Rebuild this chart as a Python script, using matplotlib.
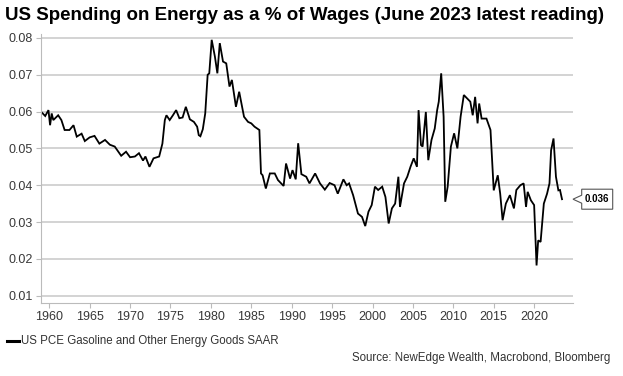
import matplotlib
matplotlib.use('Agg')
import matplotlib.pyplot as plt
from matplotlib.patches import Polygon

# values (year, share of wages)
years = [
    1959.1, 1959.5, 1959.9, 1960.1, 1960.3, 1960.5, 1961.1, 1961.5, 1961.9, 1962.5,
    1963.0, 1963.4, 1964.0, 1964.4, 1965.0, 1965.6, 1966.2, 1966.9, 1967.5, 1968.1,
    1968.9, 1969.5, 1970.0, 1970.6, 1971.1, 1971.6, 1971.9, 1972.4, 1972.9, 1973.6,
    1974.0, 1974.3, 1974.5, 1974.9, 1975.3, 1975.7, 1976.1, 1976.5, 1976.9, 1977.4,
    1977.9, 1978.3, 1978.5, 1978.7, 1979.0, 1979.3, 1979.6, 1979.8, 1980.1, 1980.5,
    1980.8, 1981.1, 1981.5, 1981.9, 1982.3, 1982.6, 1983.1, 1983.5, 1984.1, 1984.6,
    1985.0, 1985.4, 1986.0, 1986.2, 1986.4, 1986.8, 1987.3, 1987.9, 1988.3, 1989.0,
    1989.3, 1989.8, 1990.1, 1990.5, 1990.8, 1991.2, 1991.8, 1992.2, 1992.9, 1993.5,
    1994.1, 1994.7, 1995.3, 1995.7, 1996.4, 1996.8, 1997.1, 1997.6, 1998.2, 1998.7,
    1999.1, 1999.5, 1999.9, 2000.3, 2000.7, 2001.2, 2001.6, 2002.0, 2002.4, 2002.8,
    2003.2, 2003.4, 2003.9, 2004.3, 2004.7, 2005.1, 2005.5, 2005.7, 2006.0, 2006.2,
    2006.6, 2006.9, 2007.3, 2007.7, 2008.0, 2008.2, 2008.5, 2008.8, 2009.0, 2009.3,
    2009.7, 2010.1, 2010.5, 2010.9, 2011.3, 2011.7, 2012.1, 2012.4, 2012.7, 2013.0,
    2013.2, 2013.5, 2014.1, 2014.6, 2015.0, 2015.5, 2015.8, 2016.1, 2016.5, 2017.0,
    2017.5, 2017.8, 2018.3, 2018.7, 2019.0, 2019.2, 2019.6, 2020.0, 2020.3, 2020.5,
    2020.8, 2021.2, 2021.6, 2021.9, 2022.1, 2022.4, 2022.7, 2023.0, 2023.2, 2023.45,
]
share = [
    0.0597, 0.0588, 0.0604, 0.0563, 0.0595, 0.0577, 0.0590, 0.0577, 0.0550, 0.0550,
    0.0563, 0.0532, 0.0540, 0.0520, 0.0530, 0.0534, 0.0513, 0.0523, 0.0510, 0.0505,
    0.0480, 0.0491, 0.0476, 0.0478, 0.0487, 0.0467, 0.0478, 0.0450, 0.0473, 0.0478,
    0.0513, 0.0577, 0.0590, 0.0577, 0.0590, 0.0604, 0.0582, 0.0584, 0.0613, 0.0579,
    0.0572, 0.0559, 0.0536, 0.0533, 0.0552, 0.0595, 0.0700, 0.0704, 0.0795, 0.0749,
    0.0704, 0.0786, 0.0736, 0.0731, 0.0668, 0.0686, 0.0613, 0.0654, 0.0586, 0.0572,
    0.0568, 0.0559, 0.0550, 0.0432, 0.0427, 0.0391, 0.0432, 0.0432, 0.0414, 0.0398,
    0.0459, 0.0418, 0.0441, 0.0416, 0.0514, 0.0430, 0.0423, 0.0405, 0.0432, 0.0405,
    0.0388, 0.0406, 0.0400, 0.0377, 0.0416, 0.0400, 0.0405, 0.0373, 0.0323, 0.0314,
    0.0289, 0.0328, 0.0346, 0.0396, 0.0387, 0.0396, 0.0368, 0.0296, 0.0337, 0.0350,
    0.0423, 0.0341, 0.0405, 0.0423, 0.0450, 0.0473, 0.0450, 0.0604, 0.0509, 0.0505,
    0.0599, 0.0468, 0.0523, 0.0554, 0.0604, 0.0627, 0.0704, 0.0586, 0.0355, 0.0396,
    0.0505, 0.0541, 0.0500, 0.0586, 0.0645, 0.0636, 0.0627, 0.0590, 0.0640, 0.0568,
    0.0622, 0.0581, 0.0581, 0.0550, 0.0386, 0.0427, 0.0377, 0.0305, 0.0350, 0.0373,
    0.0337, 0.0387, 0.0400, 0.0405, 0.0341, 0.0382, 0.0359, 0.0346, 0.0182, 0.0250,
    0.0246, 0.0350, 0.0377, 0.0405, 0.0495, 0.0527, 0.0423, 0.0386, 0.0387, 0.0362,
]
y_ticks = [0.01, 0.02, 0.03, 0.04, 0.05, 0.06, 0.07, 0.08]
x_ticks = list(range(1960, 2021, 5))

title = 'US Spending on Energy as a % of Wages (June 2023 latest reading)'
series_name = 'US PCE Gasoline and Other Energy Goods SAAR'
source = 'Source: NewEdge Wealth, Macrobond, Bloomberg'

plt.rcParams['font.family'] = ['Liberation Sans', 'DejaVu Sans']

W, H = 623, 376
fig = plt.figure(figsize=(W / 100, H / 100), dpi=100)
ax = fig.add_axes([40.7 / W, 73 / H, (573 - 40.7) / W, (341.7 - 73) / H])

ax.plot(years, share, color='black', lw=1.3, solid_joinstyle='miter')

ax.set_xlim(1958.94, 2024.81)
ax.set_ylim(0.008, 0.081)
ax.set_yticks(y_ticks)
ax.set_yticklabels([f'{v:.2f}' for v in y_ticks])
ax.set_xticks(x_ticks)
ax.yaxis.grid(True, color='#c8c8c8', lw=1.1)
ax.set_axisbelow(True)
for s in ['top', 'right']:
    ax.spines[s].set_visible(False)
for s in ['left', 'bottom']:
    ax.spines[s].set_color('#bbbbbb')
    ax.spines[s].set_linewidth(0.8)
ax.tick_params(axis='both', colors='#bbbbbb', labelcolor='#383838', labelsize=9,
               length=3.5, width=0.8, pad=2)

# latest value callout
last = share[-1]
tip = fig.transFigure.inverted().transform(ax.transData.transform((ax.get_xlim()[1], last)))
tx, ty = tip
px, py = 1 / W, 1 / H
pts = [(tx, ty), (tx + 8.7 * px, ty + 4 * py), (tx + 8.7 * px, ty + 10 * py),
       (tx + 39.7 * px, ty + 10 * py), (tx + 39.7 * px, ty - 10 * py),
       (tx + 8.7 * px, ty - 10 * py), (tx + 8.7 * px, ty - 4 * py)]
fig.patches.append(Polygon(pts, closed=True, transform=fig.transFigure,
                           facecolor='white', edgecolor='#555555', lw=0.8))
fig.text(tx + 24.2 * px, ty, f'{last:.3f}', ha='center', va='center',
         fontsize=7, fontweight='bold', color='black')

fig.text(5 / W, 1 - 15 / H, title, ha='left', va='center',
         fontsize=13.5, fontweight='bold', color='black')

fig.lines.append(plt.Line2D([7 / W, 19 / W], [1 - 341 / H, 1 - 341 / H],
                            transform=fig.transFigure, color='black', lw=2.2))
fig.text(21 / W, 1 - 341 / H, series_name, ha='left', va='center',
         fontsize=8.3, color='#333333')
fig.text(610 / W, 1 - 358 / H, source, ha='right', va='center',
         fontsize=8.3, color='#333333')

fig.savefig('out.png', dpi=100)
